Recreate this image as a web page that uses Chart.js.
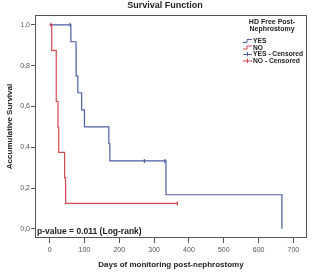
<!DOCTYPE html>
<html>
<head>
<meta charset="utf-8">
<script src="https://cdn.jsdelivr.net/npm/chart.js@4"></script>
<style>
  html, body { margin: 0; padding: 0; background: #fff; }
  #wrap { position: relative; width: 315px; height: 275px; }
</style>
</head>
<body>
<div id="wrap"><canvas id="km" width="315" height="275"></canvas></div>
<script>
// Kaplan-Meier steps
const yesDays = [0, 61, 76, 81, 92, 100, 170, 173, 334, 667];
const yesSurv = [1, 0.917, 0.75, 0.667, 0.583, 0.5, 0.417, 0.333, 0.167, 0];
const noDays = [0, 6, 19, 24, 26, 43, 46, 367];
const noSurv = [1, 0.875, 0.625, 0.5, 0.375, 0.25, 0.125, 0.125];

// censored marks
const yesCensDays = [59, 272, 331];
const yesCensSurv = [1, 0.333, 0.333];
const noCensDays = [4, 367];
const noCensSurv = [1, 0.125];

const xTicks = [0, 100, 200, 300, 400, 500, 600, 700];
const yTicks = [0, 0.2, 0.4, 0.6, 0.8, 1.0];

const legendTitle = ['HD Free Post-', 'Nephrostomy'];
const legendItems = ['YES', 'NO', 'YES - Censored', 'NO - Censored'];
const pValueText = 'p-value = 0.011 (Log-rank)';

const BLUE = '#4c5da6';
const RED = '#d8474f';
const FONT = '"Liberation Sans", Arial, sans-serif';

const pts = (xs, ys) => xs.map((x, i) => ({ x: x, y: ys[i] }));

const extras = {
    id: 'extras',
    afterDraw(chart) {
        const { ctx, chartArea: a } = chart;
        ctx.save();
        // frame
        ctx.strokeStyle = '#555';
        ctx.lineWidth = 1;
        ctx.strokeRect(a.left + 0.5, a.top + 0.5, a.right - a.left - 1, a.bottom - a.top - 1);

        // chart title
        ctx.fillStyle = '#222';
        ctx.font = 'bold 9px ' + FONT;
        ctx.textAlign = 'center';
        ctx.textBaseline = 'middle';
        ctx.fillText('Survival Function', 165, 6);

        // p-value
        ctx.font = 'bold 8.5px ' + FONT;
        ctx.textAlign = 'left';
        ctx.fillText(pValueText, 37, 232);

        // legend
        ctx.font = 'bold 7px ' + FONT;
        ctx.textAlign = 'center';
        ctx.fillText(legendTitle[0], 272, 22.5);
        ctx.fillText(legendTitle[1], 272, 29.5);
        const colors = [BLUE, RED, BLUE, RED];
        ctx.font = 'bold 6.7px ' + FONT;
        ctx.textAlign = 'left';
        legendItems.forEach((txt, i) => {
            const y = 41 + i * 6.5;
            ctx.strokeStyle = colors[i];
            ctx.lineWidth = 1;
            ctx.beginPath();
            if (i < 2) {
                ctx.moveTo(243, y + 1.5);
                ctx.lineTo(247, y + 1.5);
                ctx.lineTo(247, y - 1.5);
                ctx.lineTo(252, y - 1.5);
            } else {
                ctx.moveTo(243, y + 0.5);
                ctx.lineTo(252, y + 0.5);
                ctx.moveTo(247.5, y - 2);
                ctx.lineTo(247.5, y + 2.5);
            }
            ctx.stroke();
            ctx.fillStyle = '#222';
            ctx.fillText(txt, 253, y + 0.5);
        });
        ctx.restore();
    }
};

const stepLine = (data, color) => ({
    type: 'line',
    data: data,
    borderColor: color,
    borderWidth: 1.2,
    pointRadius: 0,
    stepped: 'before',
    fill: false
});

const censMarks = (data, color) => ({
    type: 'scatter',
    data: data,
    borderColor: color,
    backgroundColor: color,
    pointStyle: 'line',
    rotation: 90,
    pointRadius: 2,
    borderWidth: 1.2
});

new Chart(document.getElementById('km'), {
    type: 'scatter',
    data: {
        datasets: [
            stepLine(pts(noDays, noSurv), RED),
            stepLine(pts(yesDays, yesSurv), BLUE),
            censMarks(pts(noCensDays, noCensSurv), RED),
            censMarks(pts(yesCensDays, yesCensSurv), BLUE)
        ]
    },
    options: {
        responsive: false,
        animation: false,
        layout: { padding: { top: 15, right: 8, left: 0, bottom: 0 } },
        plugins: { legend: { display: false }, tooltip: { enabled: false } },
        scales: {
            x: {
                type: 'linear',
                min: -42,
                max: 739,
                afterFit: s => { s.height = 37; },
                afterBuildTicks: s => { s.ticks = xTicks.map(v => ({ value: v })); },
                grid: { drawOnChartArea: false, tickLength: 5, color: '#555' },
                border: { display: false },
                ticks: { color: '#555', font: { family: FONT, size: 7 }, padding: 3 },
                title: {
                    display: true,
                    text: 'Days of monitoring post-nephrostomy',
                    color: '#222',
                    font: { family: FONT, size: 8, weight: 'bold' },
                    padding: { top: 0, bottom: 5 }
                }
            },
            y: {
                type: 'linear',
                min: -0.045,
                max: 1.048,
                afterFit: s => { s.width = 35; },
                afterBuildTicks: s => { s.ticks = yTicks.map(v => ({ value: v })); },
                grid: { drawOnChartArea: false, tickLength: 4, color: '#555' },
                border: { display: false },
                ticks: {
                    color: '#555',
                    font: { family: FONT, size: 7 },
                    padding: 1,
                    callback: v => v.toFixed(1).replace('.', ',')
                },
                title: {
                    display: true,
                    text: 'Accumulative Survival',
                    color: '#222',
                    font: { family: FONT, size: 8, weight: 'bold' },
                    padding: { top: 5, bottom: 0 }
                }
            }
        }
    },
    plugins: [extras]
});
</script>
</body>
</html>
